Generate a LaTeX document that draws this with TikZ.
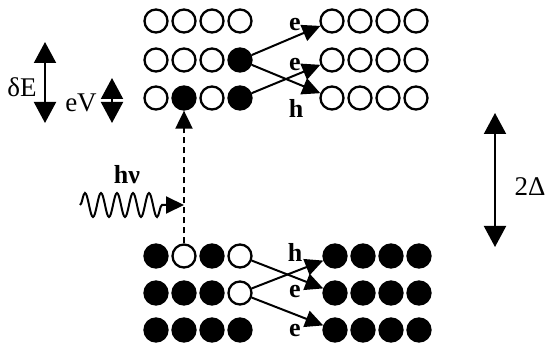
\documentclass[tikz,border=0pt]{standalone}
\usepackage{fontspec}
\setmainfont{Liberation Serif}
\usetikzlibrary{arrows.meta, decorations.pathmorphing}

\begin{document}
\begin{tikzpicture}[x=1pt, y=-1pt, font=\fontsize{27}{30}\selectfont,
  arrow/.style={-{Triangle[length=18pt, width=17pt]}, line width=2pt},
  twoway/.style={{Triangle[length=21pt, width=22pt]}-{Triangle[length=21pt, width=22pt]}, line width=2pt}]
\tikzstyle{hole} = [circle, draw, line width=2.3pt, minimum size=23pt, inner sep=0pt]
\tikzstyle{full} = [hole, fill=black]
\tikzstyle{tag} = [inner sep=0pt, font=\fontsize{26}{29}\selectfont\bfseries]
\useasboundingbox (0,0) rectangle (549,347);
% upper band, left and right
\foreach \c/\s in {1/hole,2/hole,3/hole,4/hole} \node[\s] (ula\c) at ({128+28*\c},21) {};
\foreach \c/\s in {1/hole,2/hole,3/hole,4/full} \node[\s] (ulb\c) at ({128+28*\c},60) {};
\foreach \c/\s in {1/hole,2/full,3/hole,4/full} \node[\s] (ulc\c) at ({128+28*\c},98) {};
\foreach \r/\y in {a/21,b/60,c/98}
  \foreach \c in {1,...,4} \node[hole] (ur\r\c) at ({304+28*\c},\y) {};
% lower band, left and right
\foreach \c/\s in {1/full,2/hole,3/full,4/hole} \node[\s] (lla\c) at ({128+28*\c},256) {};
\foreach \c/\s in {1/full,2/full,3/full,4/hole} \node[\s] (llb\c) at ({128+28*\c},293) {};
\foreach \c/\s in {1/full,2/full,3/full,4/full} \node[\s] (llc\c) at ({128+28*\c},330) {};
\foreach \r/\y in {a/256,b/293,c/330}
  \foreach \c in {1,...,4} \node[full] (lr\r\c) at ({307+28*\c},\y) {};
% tunnelling
\draw[arrow] (ulb4) -- (ura1);
\draw[arrow] (ulb4) -- (urc1);
\draw[arrow] (ulc4) -- (urb1);
\draw[arrow] (lla4) -- (lrb1);
\draw[arrow] (llb4) -- (lra1);
\draw[arrow] (llb4) -- (lrc1);
\node[tag] (ue1) at (295,25) {e};
\node[tag] (ue2) at (295,65) {e};
\node[tag] (uh) at (296,108) {h};
\node[tag] (lh) at (295,252) {h};
\node[tag] (le1) at (295,292) {e};
\node[tag] (le2) at (295,331) {e};
% photon
\draw[arrow, dashed, dash pattern=on 6pt off 4pt] (lla2) -- (ulc2);
\coordinate (src) at (80,205);
\coordinate (hit) at (ulc2 |- src);
\draw[arrow, decorate, decoration={snake, amplitude=12pt, segment length=16pt, post length=22pt}] (src) -- (hit);
\node[tag] (hnu) at (127,175) {hν};
% energy scales
\coordinate (dEtop) at (45,42);
\coordinate (dEbot) at (45,123);
\draw[twoway] (dEtop) -- (dEbot);
\node (dE) at (22,87) {δE};
\coordinate (eVtop) at (112,78);
\coordinate (eVbot) at (112,123);
\draw[twoway] (eVtop) -- (eVbot);
\node (eV) at (81,103) {eV};
\coordinate (gaptop) at (495,113);
\coordinate (gapbot) at (495,247);
\draw[twoway] (gaptop) -- (gapbot);
\node (gap) at (530,187) {2Δ};
\end{tikzpicture}
\end{document}
